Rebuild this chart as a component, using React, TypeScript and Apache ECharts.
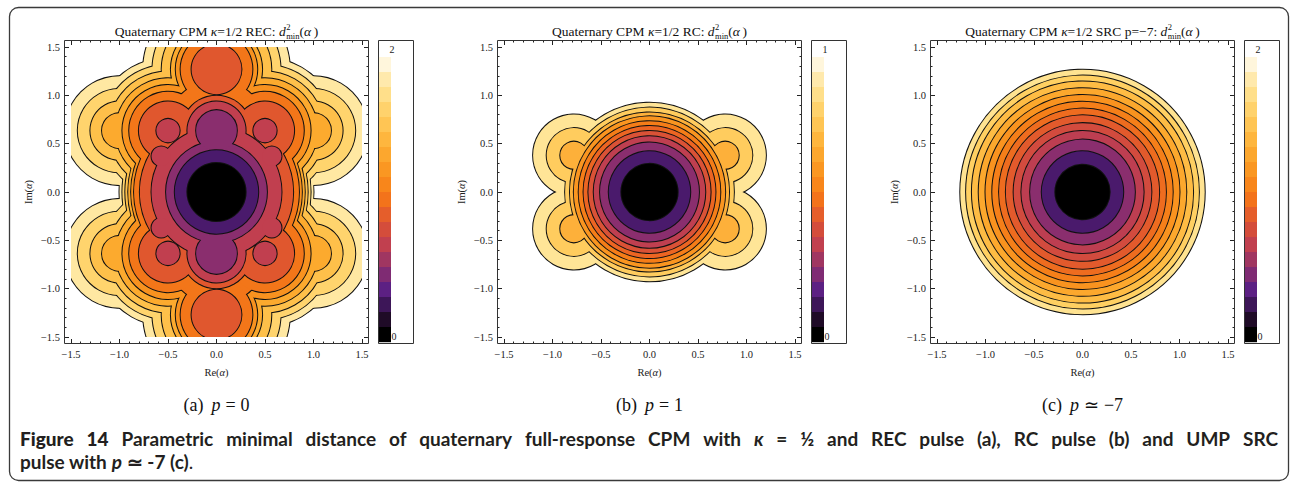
import React, { useEffect, useRef } from "react";
import * as echarts from "echarts";

// ---------------- data ----------------
const axisMin = -1.5;
const axisMax = 1.5;
const axisStep = 0.5;

// colour legend cells, top (max) to bottom (0)
const barColors = [
  "#FFF6DC", "#FFE9AC", "#FFDF8A", "#FFD26C", "#FFC554", "#FEB63E", "#FCA72E",
  "#FA9722", "#F8861B", "#F3731B", "#E55E2B", "#D44D3B", "#C1404F", "#A03661",
  "#7F2B73", "#5C2083", "#3D1658", "#1F0B27", "#000000",
];

// band colours, innermost level first
const recBandColors = ["#000000", "#4A1A6C", "#8A2E6E", "#C13F4F", "#E0572E", "#F37619", "#F8921F", "#FCAA2E", "#FEC04A", "#FFD46D", "#FFE8A2"];
const rcBandColors = ["#000000", "#4A1A6C", "#8A2E6E", "#BF3F50", "#DA5236", "#EC6522", "#F57D18", "#FA9520", "#FDB03A", "#FFCC5E", "#FFE597"];
const srcBandColors = ["#000000", "#4A1A6C", "#8A2E6E", "#BD3E51", "#D24B3E", "#E25A2C", "#EE6C1F", "#F57F19", "#F9931F", "#FCA82D", "#FEBC44", "#FFD062", "#FFE391"];

// (a) REC pulse: contour level sets as unions of discs (centre lists + radius per level)
const recCenterO = [[0, 0]];
const recCenterB = [[0, 0.635], [0, -0.635]];
const recCenterC = [[-0.5, 0.635], [0.5, 0.635], [-0.5, -0.635], [0.5, -0.635]];
const recCenterD = [[0, 1.27], [0, -1.27]];
const recCenterE = [[-1, 0.635], [1, 0.635], [-1, -0.635], [1, -0.635]];
const recCenterH = [[-0.57, 0.37], [0.57, 0.37], [-0.57, -0.37], [0.57, -0.37]];
const recRadiiO = [0.30, 0.43, 0.52, 0.67, 0.79, 0.85, 0.88, 0.91, 0.94, 0.97, 1.0];
const recRadiiB = [0, 0, 0.21, 0.30, 0.36, 0.52, 0.56, 0.60, 0.64, 0.67, 0.70];
const recRadiiC = [0, 0, 0, 0.12, 0.30, 0.40, 0.47, 0.54, 0.61, 0.68, 0.75];
const recRadiiD = [0, 0, 0, 0, 0.257, 0.37, 0.42, 0.47, 0.565, 0.66, 0.756];
const recRadiiE = [0, 0, 0, 0, 0, 0, 0, 0.18, 0.30, 0.43, 0.56];
const recRadiiH = [0, 0, 0, 0.10, 0, 0, 0, 0, 0, 0, 0];

// (b) RC pulse
const rcCenterO = [[0, 0]];
const rcCenterP = [[-0.78, 0.38], [0.78, 0.38], [-0.78, -0.38], [0.78, -0.38]];
const rcRadiiO = [0.29, 0.42, 0.51, 0.575, 0.63, 0.68, 0.73, 0.78, 0.82, 0.87, 0.92];
const rcRadiiP = [0, 0, 0, 0, 0, 0, 0, 0, 0.14, 0.28, 0.42];

// (c) SRC p = -7
const srcCenterO = [[0, 0]];
const srcRadiiO = [0.28, 0.42, 0.54, 0.63, 0.71, 0.79, 0.86, 0.93, 1.0, 1.07, 1.14, 1.20, 1.26];

const recBarLabels = ["2", "0"];
const rcBarLabels = ["1", "0"];
const srcBarLabels = ["2", "0"];

const titleMids = ["=1/2 REC: ", "=1/2 RC: ", "=1/2 SRC p=\u22127: "];
const subLetters = ["(a)", "(b)", "(c)"];
const subRel = ["=", "=", "\u2243"];
const subVals = ["0", "1", "\u22127"];

// ---------------- layout ----------------
const SERIF = '"Liberation Serif", "Times New Roman", serif';
const SANS = 'Lato, "Open Sans", sans-serif';
const PANEL_DX = 433;
const GRID_L = 71;
const GRID_T = 47;
const GRID_W = 291;
const GRID_H = 290;
const PAD = 7;
const BAR_X = 378;
const CAP_SIZE = 19;

let measureCtx: CanvasRenderingContext2D | null = null;
function textWidth(t: string, font: string): number {
  if (!measureCtx) measureCtx = document.createElement("canvas").getContext("2d");
  measureCtx!.font = font;
  return measureCtx!.measureText(t).width;
}

type Piece = { t: string; size: number; italic?: boolean; weight?: string; dy?: number; gap?: number; noAdvance?: boolean };

function fontOf(p: Piece, family: string) {
  return `${p.italic ? "italic " : ""}${p.weight || "normal"} ${p.size}px ${family}`;
}
function piecesWidth(pieces: Piece[], family: string) {
  let w = 0;
  pieces.forEach((p) => {
    w += p.gap || 0;
    if (!p.noAdvance) w += textWidth(p.t, fontOf(p, family));
  });
  return w;
}
function layout(pieces: Piece[], x0: number, baseline: number, family: string, central: number, color: string) {
  const els: any[] = [];
  let x = x0;
  for (const p of pieces) {
    x += p.gap || 0;
    const font = fontOf(p, family);
    els.push({
      type: "text",
      x,
      y: baseline + (p.dy || 0) - central * p.size,
      silent: true,
      style: { text: p.t, font, fill: color, textAlign: "left", textVerticalAlign: "middle", align: "left", verticalAlign: "middle" },
    });
    if (!p.noAdvance) x += textWidth(p.t, font);
  }
  return els;
}

function fmt(v: number) {
  const s = Math.abs(v).toFixed(1);
  return v < -1e-9 ? "\u2212" + s : s;
}

function buildItems(groups: [number[][], number[]][], nLevels: number) {
  const out: number[][] = [];
  for (let lv = nLevels - 1; lv >= 0; lv--) {
    for (let pass = 0; pass < 2; pass++) {
      for (const [centers, radii] of groups) {
        const r = radii[lv];
        if (!r) continue;
        for (const c of centers) out.push([c[0], c[1], r, lv, pass]);
      }
    }
  }
  return out;
}

const makeRender = (colors: string[]) => (params: any, api: any) => {
  const p = api.coord([api.value(0), api.value(1)]);
  const rp = api.size([api.value(2), 0])[0];
  const lv = api.value(3);
  const pass = api.value(4);
  return {
    type: "circle",
    shape: { cx: p[0], cy: p[1], r: rp },
    style: pass === 0 ? { fill: colors[lv], stroke: "#111", lineWidth: 2 } : { fill: colors[lv], stroke: "none", lineWidth: 0 },
  };
};

export default function App() {
  const ref = useRef<HTMLDivElement>(null);
  useEffect(() => {
    if (!ref.current) return;
    const chart = echarts.init(ref.current, null, { renderer: "svg" });

    const panels = [
      {
        groups: [[recCenterO, recRadiiO], [recCenterB, recRadiiB], [recCenterC, recRadiiC], [recCenterD, recRadiiD], [recCenterE, recRadiiE], [recCenterH, recRadiiH]] as [number[][], number[]][],
        colors: recBandColors,
        bar: recBarLabels,
      },
      { groups: [[rcCenterO, rcRadiiO], [rcCenterP, rcRadiiP]] as [number[][], number[]][], colors: rcBandColors, bar: rcBarLabels },
      { groups: [[srcCenterO, srcRadiiO]] as [number[][], number[]][], colors: srcBandColors, bar: srcBarLabels },
    ];

    const grid: any[] = [];
    const xAxis: any[] = [];
    const yAxis: any[] = [];
    const series: any[] = [];
    const graphics: any[] = [];

    const axisBase = (gridIndex: number, position: string, showLabel: boolean, margin: number) => ({
      type: "value",
      gridIndex,
      position,
      min: axisMin,
      max: axisMax,
      interval: axisStep,
      offset: PAD,
      axisLine: { show: false, onZero: false },
      splitLine: { show: false },
      axisTick: { show: true, inside: true, length: 5, lineStyle: { color: "#222", width: 1 } },
      minorTick: { show: true, splitNumber: 5, length: 2.5, lineStyle: { color: "#222", width: 1 } },
      axisLabel: { show: showLabel, formatter: fmt, fontFamily: SERIF, fontSize: 10.5, color: "#222", margin },
    });

    // outer border
    graphics.push({
      type: "rect",
      shape: { x: 9.5, y: 7.5, width: 1279, height: 473, r: 9 },
      style: { fill: "none", stroke: "#3a3a3a", lineWidth: 1.3 },
      silent: true,
    });

    panels.forEach((pn, i) => {
      const gl = GRID_L + i * PANEL_DX;
      grid.push({ left: gl, top: GRID_T, width: GRID_W, height: GRID_H });
      xAxis.push(axisBase(i, "bottom", true, 5));
      xAxis.push(axisBase(i, "top", false, 5));
      yAxis.push(axisBase(i, "left", true, 4));
      yAxis.push(axisBase(i, "right", false, 4));
      series.push({
        type: "custom",
        xAxisIndex: 2 * i,
        yAxisIndex: 2 * i,
        clip: true,
        silent: true,
        renderItem: makeRender(pn.colors),
        data: buildItems(pn.groups, pn.colors.length),
      });

      // plot frame
      graphics.push({
        type: "rect",
        shape: { x: gl - PAD + 0.5, y: GRID_T - PAD + 0.5, width: GRID_W + 2 * PAD - 1, height: GRID_H + 2 * PAD - 1 },
        style: { fill: "none", stroke: "#333", lineWidth: 1 },
        silent: true,
        z: 10,
      });

      // colour legend
      const bx = BAR_X + i * PANEL_DX;
      barColors.forEach((c, k) => {
        graphics.push({ type: "rect", shape: { x: bx, y: 57 + k * 15, width: 13, height: 15.2 }, style: { fill: c }, silent: true });
      });
      graphics.push({
        type: "rect",
        shape: { x: bx + 0.5, y: 40.5, width: 35, height: 303 },
        style: { fill: "none", stroke: "#333", lineWidth: 1 },
        silent: true,
        z: 10,
      });
      graphics.push(...layout([{ t: pn.bar[0], size: 10 }], bx + 11.5, 52.5, SERIF, 0.3375, "#222"));
      graphics.push(...layout([{ t: pn.bar[1], size: 10 }], bx + 13.5, 339.5, SERIF, 0.3375, "#222"));

      const cx = gl + GRID_W / 2;
      // title
      const title: Piece[] = [
        { t: "Quaternary CPM ", size: 13.5 },
        { t: "\u03ba", size: 13.5, italic: true },
        { t: titleMids[i], size: 13.5 },
        { t: "d", size: 13.5, italic: true },
        { t: "2", size: 8.5, dy: -5.7, noAdvance: true, gap: 0.5 },
        { t: "min", size: 8.5, dy: 3.1 },
        { t: "(", size: 13.5 },
        { t: "\u03b1", size: 13.5, italic: true },
        { t: "\u2009)", size: 13.5 },
      ];
      const tw = piecesWidth(title, SERIF);
      graphics.push(...layout(title, cx - tw / 2, 36, SERIF, 0.3375, "#111"));

      // axis names
      const reName: Piece[] = [{ t: "Re(", size: 10.5 }, { t: "\u03b1", size: 10.5, italic: true }, { t: ")", size: 10.5 }];
      const rw = piecesWidth(reName, SERIF);
      graphics.push(...layout(reName, cx - rw / 2, 376, SERIF, 0.3375, "#222"));
      const imName: Piece[] = [{ t: "Im(", size: 10.5 }, { t: "\u03b1", size: 10.5, italic: true }, { t: ")", size: 10.5 }];
      const iw = piecesWidth(imName, SERIF);
      graphics.push({
        type: "group",
        x: gl - 43,
        y: GRID_T + GRID_H / 2,
        rotation: Math.PI / 2,
        silent: true,
        children: layout(imName, -iw / 2, 0, SERIF, 0, "#222"),
      });

      // sub-caption
      const sub: Piece[] = [
        { t: subLetters[i], size: 18 },
        { t: "p", size: 18, italic: true, gap: 8 },
        { t: subRel[i], size: 18, gap: 5 },
        { t: subVals[i], size: 18, gap: 5 },
      ];
      const sw = piecesWidth(sub, SERIF);
      graphics.push(...layout(sub, cx - sw / 2, 411, SERIF, 0.3375, "#111"));
    });

    // figure caption (justified first line)
    const capColor = "#231F20";
    const line1: { t: string; italic?: boolean; heavy?: boolean }[] = [
      { t: "Figure", heavy: true }, { t: "14", heavy: true },
      ..."Parametric minimal distance of quaternary full-response CPM with".split(" ").map((t) => ({ t })),
      { t: "\u03ba", italic: true }, { t: "=" }, { t: "\u00bd" },
      ..."and REC pulse (a), RC pulse (b) and UMP SRC".split(" ").map((t) => ({ t })),
    ];
    const capFont = (s: number, w: { italic?: boolean; heavy?: boolean }) =>
      `${w.italic ? "italic " : ""}${w.heavy ? "900" : "bold"} ${s}px ${SANS}`;
    const lineLeft = 20;
    const lineRight = 1278;
    const wordsAt = (s: number) => line1.reduce((a, w) => a + textWidth(w.t, capFont(s, w)), 0);
    let size = CAP_SIZE;
    // keep at least a small word gap
    while (size > 15 && lineRight - lineLeft - wordsAt(size) < (line1.length - 1) * size * 0.2) size -= 0.25;
    const wordsW = wordsAt(size);
    const gap = (lineRight - lineLeft - wordsW) / (line1.length - 1);
    let x = lineLeft;
    const cap1Base = 446;
    line1.forEach((w) => {
      const font = capFont(size, w);
      graphics.push({
        type: "text",
        x,
        y: cap1Base - 0.387 * size,
        silent: true,
        style: { text: w.t, font, fill: capColor, textAlign: "left", textVerticalAlign: "middle", align: "left", verticalAlign: "middle" },
      });
      x += textWidth(w.t, font) + gap;
    });
    const line2: Piece[] = [
      { t: "pulse with ", size, weight: "bold" },
      { t: "p", size, weight: "bold", italic: true },
      { t: " \u2243 -7 (c)", size, weight: "bold" },
      { t: ".", size, weight: "normal" },
    ];
    graphics.push(...layout(line2, lineLeft, 469, SANS, 0.387, capColor));

    chart.setOption({
      animation: false,
      textStyle: { fontFamily: SERIF },
      grid,
      xAxis,
      yAxis,
      series,
      graphic: { elements: graphics },
    });
    return () => chart.dispose();
  }, []);
  return (
    <div
      ref={ref}
      style={{ position: "fixed", left: 0, top: 0, width: 1292, height: 484, background: "#fff" }}
    />
  );
}
